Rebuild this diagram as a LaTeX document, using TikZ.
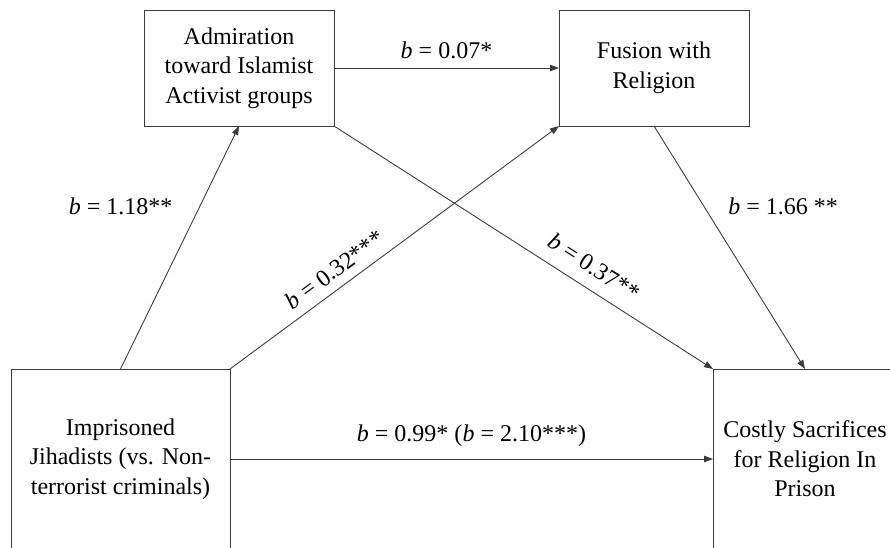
\documentclass[tikz,border=0pt]{standalone}
\usepackage{fontspec}
\setmainfont{Liberation Serif}
\usetikzlibrary{arrows.meta,positioning}
\definecolor{lineGray}{RGB}{60,60,60}
\newcommand{\bval}[1]{\textit{b} = #1}
\begin{document}
\begin{tikzpicture}[x=1pt,y=-1pt,
  font=\fontsize{24}{29.5}\selectfont,
  varbox/.style={draw=lineGray,line width=1pt,inner sep=0pt,outer sep=0pt,align=center},
  path/.style={draw=lineGray,line width=0.9pt,-{Triangle[length=9pt,width=6.5pt]}},
  coef/.style={inner sep=2pt}]
  \useasboundingbox (0,0) rectangle (890,547);
  \clip (0,0) rectangle (890,547);
  % variables
  \node[varbox,minimum width=190pt,minimum height=116pt] (admir) at (239,68)
    {Admiration\\toward Islamist\\Activist groups};
  \node[varbox,minimum width=190pt,minimum height=116pt] (fusion) at (654,68)
    {Fusion with\\Religion};
  \node[varbox,minimum width=219pt,minimum height=180pt] (jihad) at (120.5,459)
    {Imprisoned\\Jihadists (vs. Non-\\terrorist criminals)};
  \node[varbox,minimum width=184pt,minimum height=180pt] (costly) at (805,459)
    {Costly Sacrifices\\for Religion In\\Prison};
  % paths
  \draw[path] (admir.east) -- node[coef,above=7pt] {\bval{0.07*}} (fusion.west);
  \draw[path] (jihad.north) -- node[coef,pos=0.67,left=25pt] {\bval{1.18**}} (admir.south);
  \draw[path] (fusion.south) -- node[coef,pos=0.33,right=22pt] {\bval{1.66 **}} (costly.north);
  \draw[path] (jihad.north east) -- node[coef,sloped,pos=0.35,above=7pt] {\bval{0.32***}} (fusion.south west);
  \draw[path] (admir.south east) -- node[coef,sloped,pos=0.655,above=11pt] {\bval{0.37**}} (costly.north west);
  \draw[path] (jihad.east) -- node[coef,above=10pt] {\bval{0.99*} (\bval{2.10***})} (costly.west);
\end{tikzpicture}
\end{document}
